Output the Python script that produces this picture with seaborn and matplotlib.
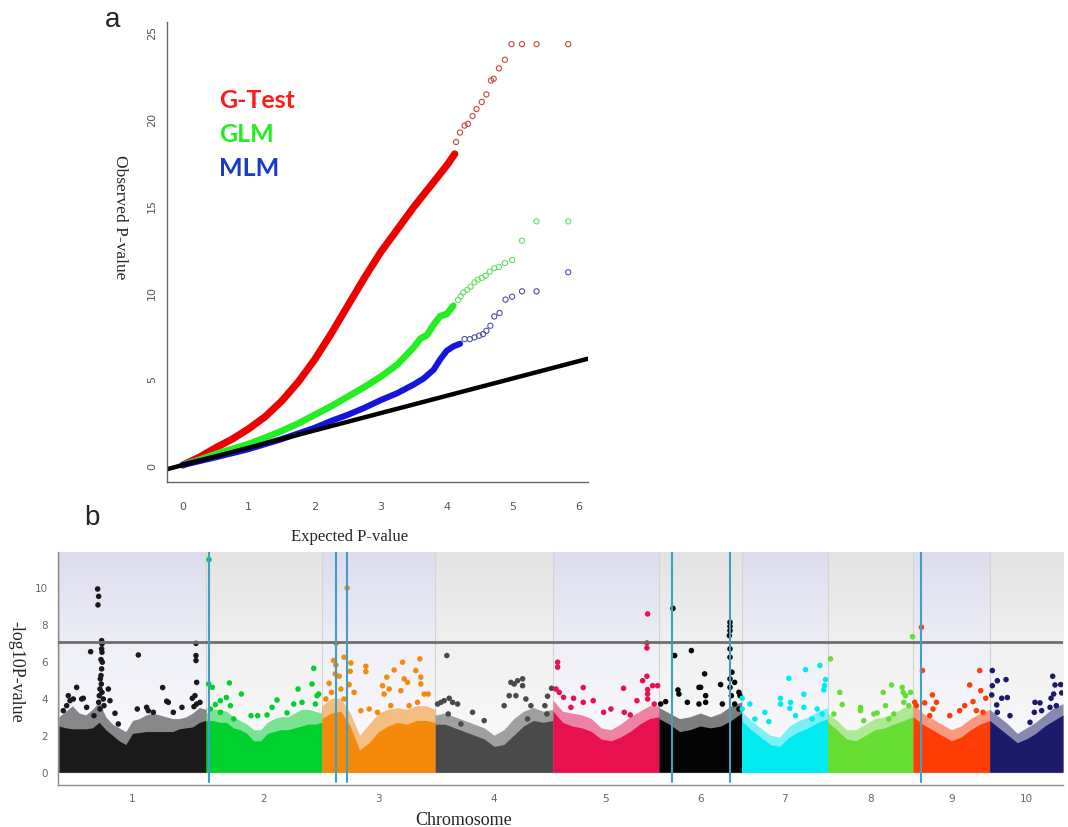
import numpy as np
import pandas as pd
import matplotlib
matplotlib.use("Agg")
import matplotlib.pyplot as plt
import seaborn as sns
from matplotlib.colors import LinearSegmentedColormap
from matplotlib.ticker import FixedLocator, NullFormatter

sns.set_theme(style="white")
plt.rcParams['font.family'] = ['DejaVu Sans']

W, H = 1068, 828

# ---------------- Panel a : QQ plot data ----------------
gtest_x = [0, 0.25, 0.5, 0.75, 1.0, 1.25, 1.5, 1.75, 2.0, 2.25, 2.5, 2.75, 3.0, 3.25, 3.5, 3.75, 4.0, 4.12]
gtest_y = [0, 0.45, 1.0, 1.5, 2.1, 2.8, 3.7, 4.8, 6.1, 7.6, 9.2, 10.8, 12.3, 13.6, 14.9, 16.1, 17.3, 17.96]
gtest_tail_x = [4.14, 4.2, 4.27, 4.32, 4.39, 4.45, 4.53, 4.6, 4.67, 4.71, 4.79, 4.88, 4.98, 5.14, 5.36, 5.84]
gtest_tail_y = [18.65, 19.2, 19.6, 19.7, 20.15, 20.55, 20.96, 21.4, 22.2, 22.3, 22.9, 23.4, 24.3, 24.3, 24.3, 24.3]

glm_x = [0, 0.25, 0.5, 0.75, 1.0, 1.25, 1.5, 1.75, 2.0, 2.25, 2.5, 2.75, 3.0, 3.25, 3.5, 3.6, 3.7, 3.8, 3.9, 4.0, 4.1]
glm_y = [0, 0.3, 0.64, 0.93, 1.22, 1.58, 1.97, 2.4, 2.9, 3.4, 3.95, 4.5, 5.1, 5.8, 6.8, 7.3, 7.5, 8.1, 8.6, 8.72, 9.2]
glm_tail_x = [4.17, 4.21, 4.25, 4.31, 4.36, 4.42, 4.47, 4.53, 4.59, 4.65, 4.72, 4.79, 4.88, 4.99, 5.14, 5.36, 5.84]
glm_tail_y = [9.53, 9.74, 9.97, 10.12, 10.3, 10.55, 10.7, 10.8, 10.93, 11.16, 11.37, 11.43, 11.66, 11.84, 12.95, 14.07, 14.07]

mlm_x = [0, 0.5, 1.0, 1.5, 2.0, 2.25, 2.5, 2.75, 3.0, 3.25, 3.5, 3.65, 3.8, 3.9, 4.0, 4.1, 4.2]
mlm_y = [0, 0.45, 0.92, 1.5, 2.15, 2.55, 2.9, 3.3, 3.75, 4.15, 4.65, 5.0, 5.5, 6.1, 6.6, 6.85, 7.0]
mlm_tail_x = [4.27, 4.35, 4.42, 4.49, 4.55, 4.6, 4.66, 4.72, 4.8, 4.89, 4.99, 5.14, 5.36, 5.84]
mlm_tail_y = [7.27, 7.27, 7.37, 7.47, 7.56, 7.75, 8.04, 8.58, 8.78, 9.55, 9.72, 10.03, 10.03, 11.13]

diag_x = [-0.24, 6.14]
diag_y = [-0.24, 6.14]

qq_xticks = [0, 1, 2, 3, 4, 5, 6]
qq_yticks = [0, 5, 10, 15, 20, 25]

# ---------------- Panel b : Manhattan data ----------------
chrom_names = ["1", "2", "3", "4", "5", "6", "7", "8", "9", "10"]
chrom_len = [301, 237, 232, 241, 217, 169, 176, 175, 157, 150]
chrom_colors = ["#1a1a1a", "#00d12e", "#f5890a", "#4a4a4a", "#e8104e",
                "#050505", "#00eaf2", "#66dd33", "#ff3d05", "#1c1a6b"]

# solid part of the dense point mass (upper edge, evenly spaced along each chromosome)
body1 = [2.5, 2.4, 2.35, 2.35, 2.35, 2.4, 2.7, 2.3, 2.0, 1.7, 1.5, 2.1, 2.15, 2.2, 2.2, 2.2, 2.2, 2.2, 2.35, 2.4, 2.45, 2.7, 2.8]
body2 = [2.8, 2.8, 2.7, 2.7, 2.4, 2.3, 2.1, 1.7, 1.7, 2.1, 2.2, 2.3, 2.3, 2.4, 2.5, 2.6, 2.6, 2.7]
body3 = [2.9, 3.2, 3.3, 2.5, 1.2, 1.6, 2.2, 2.5, 2.7, 2.6, 2.8, 2.8, 2.7]
body4 = [2.6, 2.6, 2.4, 2.2, 2.0, 1.8, 1.4, 1.5, 2.0, 2.5, 2.8, 2.7, 2.8]
body5 = [3.3, 2.7, 2.5, 2.4, 2.2, 1.8, 1.7, 1.9, 2.2, 2.6, 2.9, 3.0]
body6 = [2.9, 2.6, 2.2, 2.3, 2.5, 2.4, 2.5, 2.8, 3.2]
body7 = [2.8, 2.3, 1.9, 1.5, 1.4, 1.9, 2.2, 2.4, 2.7, 2.9]
body8 = [2.7, 2.3, 1.8, 1.7, 2.0, 2.3, 2.4, 2.6, 2.8, 3.0]
body9 = [3.0, 2.6, 2.3, 2.0, 1.7, 1.9, 2.3, 2.6, 2.8]
body10 = [2.8, 2.4, 2.0, 1.6, 1.8, 2.1, 2.5, 2.8, 3.1]
bodies = [body1, body2, body3, body4, body5, body6, body7, body8, body9, body10]

# speckled fringe of dense points just above the solid part
fringe1 = [3.0, 3.3, 3.6, 3.2, 3.1, 3.4, 3.8, 3.0, 2.6, 2.4, 2.2, 2.8, 2.9, 3.1, 3.2, 3.1, 3.0, 2.9, 2.9, 3.0, 3.2, 3.5, 3.4]
fringe2 = [3.2, 3.4, 3.4, 3.3, 3.0, 2.8, 2.6, 2.3, 2.3, 2.7, 2.9, 3.0, 3.0, 3.2, 3.4, 3.4, 3.3, 3.2]
fringe3 = [3.6, 4.0, 4.0, 3.2, 2.0, 2.6, 3.2, 3.4, 3.5, 3.4, 3.6, 3.6, 3.4]
fringe4 = [3.1, 3.2, 3.0, 2.8, 2.6, 2.4, 2.0, 2.3, 2.9, 3.3, 3.5, 3.3, 3.4]
fringe5 = [3.9, 3.3, 3.2, 3.1, 2.9, 2.4, 2.3, 2.6, 3.0, 3.3, 3.6, 3.6]
fringe6 = [3.5, 3.2, 2.9, 3.0, 3.2, 3.0, 3.2, 3.6, 3.8]
fringe7 = [3.3, 2.8, 2.4, 2.0, 1.9, 2.5, 2.8, 3.0, 3.3, 3.5]
fringe8 = [3.2, 2.8, 2.3, 2.3, 2.6, 2.9, 3.0, 3.2, 3.5, 3.6]
fringe9 = [3.7, 3.2, 2.9, 2.6, 2.3, 2.5, 2.9, 3.2, 3.4]
fringe10 = [3.4, 3.0, 2.6, 2.1, 2.4, 2.7, 3.1, 3.5, 3.7]
fringes = [fringe1, fringe2, fringe3, fringe4, fringe5, fringe6, fringe7, fringe8, fringe9, fringe10]

chr1_pos = [8.9, 19.1, 22.5, 29.3, 36.2, 46.4, 49.8, 15.7, 56.6, 64.8, 71.6, 79.1, 81.2, 79.8, 87.3, 88.0, 87.3, 88.0, 86.0, 88.7, 87.3, 86.0, 84.6, 86.6, 83.9, 88.0, 82.5, 90.7, 81.2, 92.1, 83.9, 101.0, 104.4, 114.6, 121.4, 162.4, 160.3, 179.4, 182.8, 193.1, 212.2, 220.4, 223.8, 234.0, 251.7, 272.9, 278.3, 281.8, 280.4, 280.4, 280.4, 281.8, 276.3, 288.6]
chr1_val = [3.33, 4.14, 3.87, 3.96, 4.59, 3.96, 4.0, 3.6, 3.51, 6.52, 3.06, 9.91, 9.51, 9.05, 7.12, 6.94, 6.67, 6.49, 6.09, 5.95, 5.59, 5.23, 5.05, 4.77, 4.5, 4.32, 4.14, 3.96, 3.78, 3.6, 3.42, 4.5, 3.87, 3.19, 2.61, 6.34, 3.42, 3.51, 3.33, 3.24, 4.58, 3.84, 3.78, 3.24, 3.51, 4.0, 4.14, 4.86, 6.97, 6.31, 6.04, 3.69, 3.55, 3.78]
chr2_pos = [6.1, 5.5, 13.0, 19.1, 29.3, 41.6, 47.8, 49.8, 56.6, 72.3, 92.1, 105.7, 124.8, 135.1, 145.3, 165.8, 179.4, 188.3, 196.5, 217.0, 220.4, 227.2, 230.6, 223.8, 29.3, 8.9]
chr2_val = [11.5, 4.77, 4.59, 3.66, 3.87, 4.04, 4.83, 3.6, 2.88, 4.23, 3.06, 3.06, 3.1, 3.51, 3.91, 3.21, 3.69, 4.5, 3.78, 4.77, 5.62, 4.14, 4.23, 3.69, 3.24, 3.42]
chr3_pos = [29.3, 51.8, 23.9, 28.7, 27.3, 35.5, 15.0, 19.8, 55.9, 38.9, 8.2, 45.6, 45.6, 59.4, 58.0, 66.1, 79.8, 90.1, 90.1, 96.9, 124.2, 127.5, 133.0, 137.8, 148.0, 161.7, 165.2, 168.4, 175.4, 178.7, 192.4, 200.6, 202.6, 202.6, 209.4, 217.6, 195.9, 114.0, 141.2]
chr3_val = [6.97, 9.96, 6.04, 5.8, 5.32, 5.19, 4.81, 4.32, 4.74, 4.5, 3.96, 3.96, 6.22, 5.91, 5.46, 4.32, 3.33, 5.73, 5.44, 3.42, 4.68, 4.23, 5.14, 4.5, 5.53, 4.41, 5.95, 5.05, 4.86, 3.6, 5.5, 6.13, 5.14, 4.77, 4.23, 4.23, 3.78, 3.24, 3.6]
chr4_pos = [23.9, 4.9, 11.7, 18.4, 28.7, 35.6, 45.8, 26.7, 52.6, 76.5, 100.3, 141.2, 151.5, 154.9, 161.7, 168.6, 178.9, 178.9, 165.2, 185.6, 195.9, 189.1, 224.5, 230.0, 238.2, 228.6]
chr4_val = [6.31, 3.69, 3.78, 3.87, 4.0, 3.78, 3.69, 3.15, 2.61, 3.24, 2.79, 3.6, 4.14, 4.86, 4.77, 4.95, 5.05, 4.68, 4.14, 3.96, 3.6, 2.88, 3.6, 4.11, 4.54, 3.15]
chr5_pos = [193.8, 192.4, 192.4, 9.6, 9.6, 6.1, 12.9, 21.8, 42.3, 62.0, 62.0, 82.5, 103.7, 144.6, 146.0, 158.3, 171.9, 183.5, 192.4, 193.8, 193.8, 193.8, 204.0, 214.3, 207.4, 36.8, 118.7]
chr5_val = [8.56, 6.99, 6.72, 5.95, 5.68, 4.5, 4.32, 4.05, 4.0, 4.58, 3.78, 3.87, 3.24, 4.54, 3.24, 3.1, 3.87, 4.95, 5.19, 4.47, 4.23, 3.96, 4.68, 4.68, 3.69, 3.51, 3.42]
chr6_pos = [28.7, 32.1, 66.3, 13.7, 3.5, 38.9, 40.9, 58.1, 81.9, 81.9, 93.5, 85.3, 95.6, 95.6, 126.3, 129.8, 145.4, 145.4, 145.4, 144.1, 145.4, 145.4, 149.5, 145.4, 145.4, 148.1, 154.9, 154.9, 163.7, 165.8, 163.7]
chr6_val = [8.86, 6.31, 6.58, 3.82, 3.69, 4.45, 4.23, 3.78, 4.59, 3.69, 5.32, 4.59, 4.14, 3.78, 4.74, 3.69, 8.11, 7.89, 7.66, 7.39, 6.67, 6.22, 5.41, 5.05, 4.59, 4.14, 4.86, 3.69, 4.32, 4.14, 3.42]
chr7_pos = [160.3, 131.0, 96.9, 171.9, 169.9, 168.5, 127.5, 79.8, 79.8, 100.3, 1.4, 17.0, 47.7, 27.3, 55.9, 98.9, 127.5, 154.9, 165.2, 144.7, 110.5, 1.4]
chr7_val = [5.77, 5.55, 5.08, 5.01, 4.68, 4.45, 4.22, 4.0, 3.69, 3.78, 4.0, 3.69, 3.24, 2.88, 2.74, 3.46, 3.51, 3.42, 3.15, 2.88, 3.06, 3.42]
chr8_pos = [174.0, 6.1, 25.2, 30.1, 67.5, 67.5, 12.9, 94.8, 101.7, 114.0, 131.0, 118.7, 152.9, 154.9, 159.6, 169.9, 156.2, 166.5, 74.3, 125.5, 135.7]
chr8_val = [7.33, 6.13, 4.32, 3.66, 3.51, 3.33, 3.15, 3.15, 3.21, 4.32, 4.72, 3.6, 4.59, 4.32, 4.14, 4.32, 3.78, 3.6, 2.79, 2.88, 3.15]
chr9_pos = [17.2, 19.2, 136.5, 116.0, 138.6, 39.7, 47.9, 23.9, 3.5, 7.0, 105.8, 122.8, 148.8, 95.5, 129.7, 143.3, 34.2, 75.1, 40.9]
chr9_val = [7.84, 5.5, 5.5, 4.72, 4.41, 4.18, 3.78, 3.75, 3.78, 3.6, 3.6, 3.82, 4.0, 3.33, 3.33, 3.24, 3.06, 3.06, 3.42]
chr10_pos = [5.3, 15.6, 33.4, 5.3, 4.1, 24.6, 36.0, 14.3, 15.6, 41.5, 92.7, 102.9, 91.3, 106.3, 128.9, 133.6, 145.3, 147.4, 130.9, 125.5, 136.3, 123.4, 82.5]
chr10_val = [5.5, 4.95, 5.01, 4.68, 4.18, 4.0, 4.04, 3.64, 3.24, 3.06, 3.78, 3.75, 3.24, 3.33, 5.19, 4.72, 4.74, 4.29, 4.23, 4.0, 3.6, 3.51, 2.7]
chr_pos = [chr1_pos, chr2_pos, chr3_pos, chr4_pos, chr5_pos, chr6_pos, chr7_pos, chr8_pos, chr9_pos, chr10_pos]
chr_val = [chr1_val, chr2_val, chr3_val, chr4_val, chr5_val, chr6_val, chr7_val, chr8_val, chr9_val, chr10_val]

signal_lines = [(2, 5.8), (3, 28.0), (3, 50.5), (6, 27.5), (6, 144.5), (9, 17.0)]
threshold = 7.05
man_yticks = [0, 2, 4, 6, 8, 10]

# ---------------- Figure ----------------
fig = plt.figure(figsize=(W / 100, H / 100), dpi=100)
fig.patch.set_facecolor("white")

def fx(px):
    return px / W

def fy(py):
    return 1 - py / H

# ---- Panel a ----
ax1 = fig.add_axes([fx(167), fy(483), fx(588) - fx(167), fy(23) - fy(483)])
ax1.set_facecolor("white")
for xs, ys, c, lw in [(gtest_x, gtest_y, "#ee0000", 5.2), (glm_x, glm_y, "#22ee22", 4.8),
                      (mlm_x, mlm_y, "#1414dd", 4.4)]:
    sns.lineplot(x=xs, y=ys, ax=ax1, color=c, lw=lw, sort=False, estimator=None,
                 solid_capstyle="round", solid_joinstyle="round", legend=False)
sns.lineplot(x=diag_x, y=diag_y, ax=ax1, color="black", lw=3.2, sort=False,
             estimator=None, legend=False)
for xs, ys, c in [(gtest_tail_x, gtest_tail_y, "#cc4444"), (glm_tail_x, glm_tail_y, "#66dd66"),
                  (mlm_tail_x, mlm_tail_y, "#5050a8")]:
    sns.scatterplot(x=xs, y=ys, ax=ax1, marker="o", s=14, color="none", edgecolor=c,
                    linewidth=0.8, legend=False)

ax1.set_xlim(-0.24, 6.14)
ax1.set_ylim(-0.98, 25.58)
ax1.set_xticks(qq_xticks)
ax1.set_yticks(qq_yticks)
ax1.set_xticklabels([str(v) for v in qq_xticks])
ax1.set_yticklabels([str(v) for v in qq_yticks], rotation=90, va="center")
for s in ["top", "right"]:
    ax1.spines[s].set_visible(False)
for s in ["left", "bottom"]:
    ax1.spines[s].set_color("#666666")
    ax1.spines[s].set_linewidth(1.0)
ax1.tick_params(axis="both", which="both", direction="out", length=5, width=0.9,
                color="#666666", labelcolor="#555555", labelsize=8)
ax1.tick_params(axis="x", pad=9)
ax1.tick_params(axis="y", pad=2)
ax1.grid(False)
ax1.set_xlabel("")
ax1.set_ylabel("")

fig.text(fx(350), fy(537), "Expected P-value", ha="center", va="center",
         fontsize=12, family=["Liberation Serif", "DejaVu Serif"])
fig.text(fx(120), fy(217), "Observed P-value", ha="center", va="center", rotation=270,
         fontsize=12.5, family=["Liberation Serif", "DejaVu Serif"])
fig.text(fx(113), fy(20), "a", ha="center", va="center", fontsize=20,
         family=["Liberation Sans", "DejaVu Sans"])
fig.text(fx(92), fy(518), "b", ha="center", va="center", fontsize=20,
         family=["Liberation Sans", "DejaVu Sans"])
for label, c, py in [("G-Test", "#ff1a1a", 100), ("GLM", "#22ee22", 135), ("MLM", "#1a3acc", 169)]:
    fig.text(fx(219), fy(py), label, ha="left", va="center", fontsize=18,
             fontweight="bold", color=c, family=["Lato", "DejaVu Sans"])

# ---- Panel b ----
ax2 = fig.add_axes([fx(58), fy(786), fx(1063) - fx(58), fy(553) - fy(786)])
ax2.set_facecolor("white")
ymin, ymax = -0.69, 11.91
offsets = np.concatenate([[0], np.cumsum(chrom_len)])
total = offsets[-1]

cmap_odd = LinearSegmentedColormap.from_list("odd", ["#fbfbfe", "#f1f1f8", "#dcdcee"])
cmap_even = LinearSegmentedColormap.from_list("even", ["#fbfbfb", "#f2f2f2", "#e3e3e3"])
grad = np.linspace(0, 1, 256).reshape(-1, 1)
for i in range(len(chrom_len)):
    cm = cmap_odd if i % 2 == 0 else cmap_even
    ax2.imshow(grad, extent=[offsets[i], offsets[i + 1], 0, ymax], origin="lower",
               aspect="auto", cmap=cm, zorder=0, interpolation="bilinear")
    ax2.plot([offsets[i], offsets[i]], [0, ymax], color="#d4d4d4", lw=0.8, zorder=0.5)
ax2.axhline(0, color="#c8c8c8", lw=1.0, zorder=0.6)

for i in range(len(chrom_len)):
    h = np.asarray(bodies[i], dtype=float)
    f = np.asarray(fringes[i], dtype=float)
    xs = np.linspace(offsets[i], offsets[i + 1], len(h))
    ax2.fill_between(xs, 0, f, color=chrom_colors[i], lw=0, alpha=0.5, zorder=1.9)
    ax2.fill_between(xs, 0, h, color=chrom_colors[i], lw=0, zorder=2)

rows = []
for i in range(len(chrom_len)):
    for p, v in zip(chr_pos[i], chr_val[i]):
        rows.append({"chrom": chrom_names[i], "pos": offsets[i] + p, "value": v})
df = pd.DataFrame(rows)
sns.scatterplot(data=df, x="pos", y="value", hue="chrom", hue_order=chrom_names,
                palette=dict(zip(chrom_names, chrom_colors)), s=16, linewidth=0,
                legend=False, ax=ax2, zorder=3)

ax2.axhline(threshold, color="#6e6e6e", lw=2.0, zorder=4)
for ch, p in signal_lines:
    x = offsets[int(ch) - 1] + p
    ax2.plot([x, x], [-0.55, ymax], color="#3fa0c4", lw=1.5, zorder=5)

ax2.set_xlim(-2, total)
ax2.set_ylim(ymin, ymax)
ax2.set_xlabel("")
ax2.set_ylabel("")
ax2.grid(False)
for s in ["top", "right"]:
    ax2.spines[s].set_visible(False)
for s in ["left", "bottom"]:
    ax2.spines[s].set_color("#8a8a8a")
    ax2.spines[s].set_linewidth(1.0)
ax2.yaxis.set_major_locator(FixedLocator(man_yticks))
ax2.yaxis.set_minor_locator(FixedLocator(np.round(np.arange(-0.4, 11.8, 0.4), 2)))
ax2.set_yticklabels([str(v) for v in man_yticks])
ax2.xaxis.set_major_locator(FixedLocator(offsets))
ax2.xaxis.set_major_formatter(NullFormatter())
centers = (offsets[:-1] + offsets[1:]) / 2
ax2.xaxis.set_minor_locator(FixedLocator(centers))
ax2.set_xticklabels(chrom_names, minor=True)
ax2.tick_params(axis="y", which="major", direction="out", length=5, width=0.9,
                color="#8a8a8a", labelcolor="#666666", labelsize=7.5, pad=2)
ax2.tick_params(axis="y", which="minor", direction="out", length=3, width=0.7, color="#8a8a8a")
ax2.tick_params(axis="x", which="major", direction="out", length=4, width=1.0, color="#555555")
ax2.tick_params(axis="x", which="minor", length=0, labelcolor="#666666", labelsize=7.5, pad=6)

fig.text(fx(464), fy(821), "Chromosome", ha="center", va="center", fontsize=13,
         family=["Liberation Serif", "DejaVu Serif"])
fig.text(fx(16), fy(672), "-log10P-value", ha="center", va="center", rotation=270,
         fontsize=13, family=["Liberation Serif", "DejaVu Serif"])

fig.savefig("out.png", dpi=100, facecolor="white")
